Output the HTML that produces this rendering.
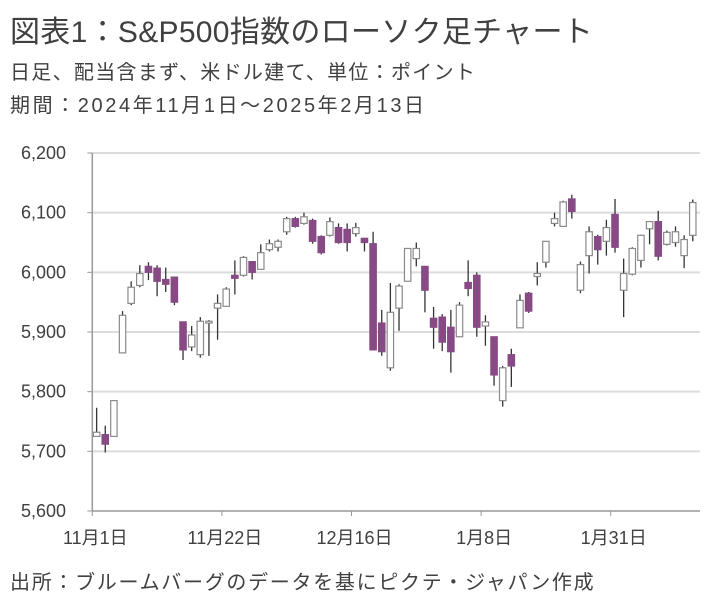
<!DOCTYPE html>
<html><head><meta charset="utf-8"><style>
body{margin:0;background:#fff;width:712px;height:614px;overflow:hidden;font-family:"Liberation Sans","Noto Sans CJK JP",sans-serif;color:#404040}
.t{position:absolute;left:10px;white-space:nowrap}
</style></head><body>
<div class="t" style="top:7px;font-size:30px;letter-spacing:0.3px">図表1：S&amp;P500指数のローソク足チャート</div>
<div class="t" style="top:56px;font-size:20px;letter-spacing:1.3px">日足、配当含まず、米ドル建て、単位：ポイント</div>
<div class="t" style="top:89px;font-size:20px;letter-spacing:2.6px">期間：2024年11月1日～2025年2月13日</div>
<div class="t" style="top:566px;font-size:20px;letter-spacing:1.7px">出所：ブルームバーグのデータを基にピクテ・ジャパン作成</div>
<svg id="c" width="712" height="614" style="position:absolute;left:0;top:0"></svg>
<script>
const opens=[5725,5728,5725,5865,5948,5978,6010,6007,5988,5992,5917,5875,5862,5915,5940,5943,5995,5995,6018,6005,6038,6042,6068,6090,6082,6087,6060,6062,6075,6072,6065,6057,6048,5915,5840,5940,5985,6023,6010,5923,5925,5908,5892,5983,5995,5910,5892,5785,5862,5907,5965,5993,6017,6082,6077,6123,5970,6028,6060,6052,6097,5970,5997,6020,6073,6085,6047,6050,6028,6062];
const closes=[5732,5712,5785,5928,5975,5998,6000,5985,5980,5950,5870,5895,5918,5918,5948,5972,5990,6025,6000,6033,6048,6052,6090,6077,6093,6052,6033,6085,6050,6050,6075,6050,5870,5867,5933,5977,6040,6040,5970,5908,5883,5867,5945,5973,5908,5917,5828,5840,5843,5953,5935,5998,6052,6090,6118,6102,6013,6068,6038,6075,6042,5998,6040,6062,6085,6027,6067,6068,6055,6117];
const highs=[5773,5743,5785,5935,5985,6012,6017,6012,6008,5992,5917,5910,5925,5920,5963,5975,6020,6027,6018,6047,6055,6055,6093,6093,6100,6090,6062,6092,6082,6082,6083,6058,6068,5937,5982,5980,6040,6050,6010,5942,5930,5937,5950,6020,6000,5928,5892,5843,5872,5963,5967,6017,6052,6100,6120,6130,6018,6077,6063,6088,6123,6023,6042,6063,6085,6103,6070,6077,6062,6122];
const lows=[5725,5698,5725,5865,5945,5975,5987,5960,5967,5945,5853,5868,5857,5860,5887,5943,5963,5993,5988,6005,6035,6035,6063,6075,6080,6048,6030,6060,6048,6035,6060,6035,5870,5860,5835,5902,5985,6010,5933,5872,5868,5832,5892,5960,5892,5877,5810,5775,5808,5907,5932,5978,6008,6077,6077,6090,5965,5998,6013,6028,6033,5925,5995,6008,6047,6020,6045,6043,6007,6052];
const yTicks=[5600,5700,5800,5900,6000,6100,6200];
const xLabels=["11月1日","11月22日","12月16日","1月8日","1月31日"];
const xLabelIdx=[0,15,30,45,60];
const NS="http://www.w3.org/2000/svg",svg=document.getElementById('c');
const X0=92.3,STEP=8.64,YB=511,YT=153,VMIN=5600,VMAX=6200;
const y=v=>YB-(v-VMIN)/(VMAX-VMIN)*(YB-YT);
const xc=i=>X0+STEP*(i+0.5);
function mk(t,a){const e=document.createElementNS(NS,t);for(const k in a)e.setAttribute(k,a[k]);svg.appendChild(e);return e;}
yTicks.forEach((v,i)=>{
 if(i>0){const g=mk('line',{x1:X0,x2:700,y1:y(v),y2:y(v),stroke:'#dcdcdc','stroke-width':2});
 
 }
 mk('line',{x1:X0-5,x2:X0,y1:y(v),y2:y(v),stroke:'#999'});
 const t=mk('text',{x:66,y:y(v)+6,'text-anchor':'end','font-size':18,fill:'#404040'});t.textContent=v.toLocaleString('en-US');
 
 
});
mk('line',{x1:X0,x2:X0,y1:YT,y2:YB,stroke:'#999','stroke-width':1.5});
mk('line',{x1:X0,x2:700,y1:YB,y2:YB,stroke:'#999','stroke-width':1.5});
xLabelIdx.forEach((k,i)=>{
 const xx=X0+STEP*k;
 mk('line',{x1:xx,x2:xx,y1:YB,y2:YB+5,stroke:'#999'});
 const t=mk('text',{x:xx+3,y:544,'text-anchor':'middle','font-size':18,fill:'#404040'});t.textContent=xLabels[i];
 
 
});
opens.forEach((o,i)=>{
 const c=closes[i],up=c>=o,cx=xc(i);
 const w=mk('line',{x1:cx,x2:cx,y1:y(highs[i]),y2:y(lows[i]),stroke:'#333','stroke-width':1.3});
 
 
 const top=y(Math.max(o,c)),h=Math.max(1.5,Math.abs(y(o)-y(c)));
 const r=mk('rect',{x:cx-3.2,y:top,width:6.4,height:h,fill:up?'#fff':'#874a85',stroke:up?'#8a8a8a':'#874a85','stroke-width':1.2});
 
 
});
</script>
</body></html>
